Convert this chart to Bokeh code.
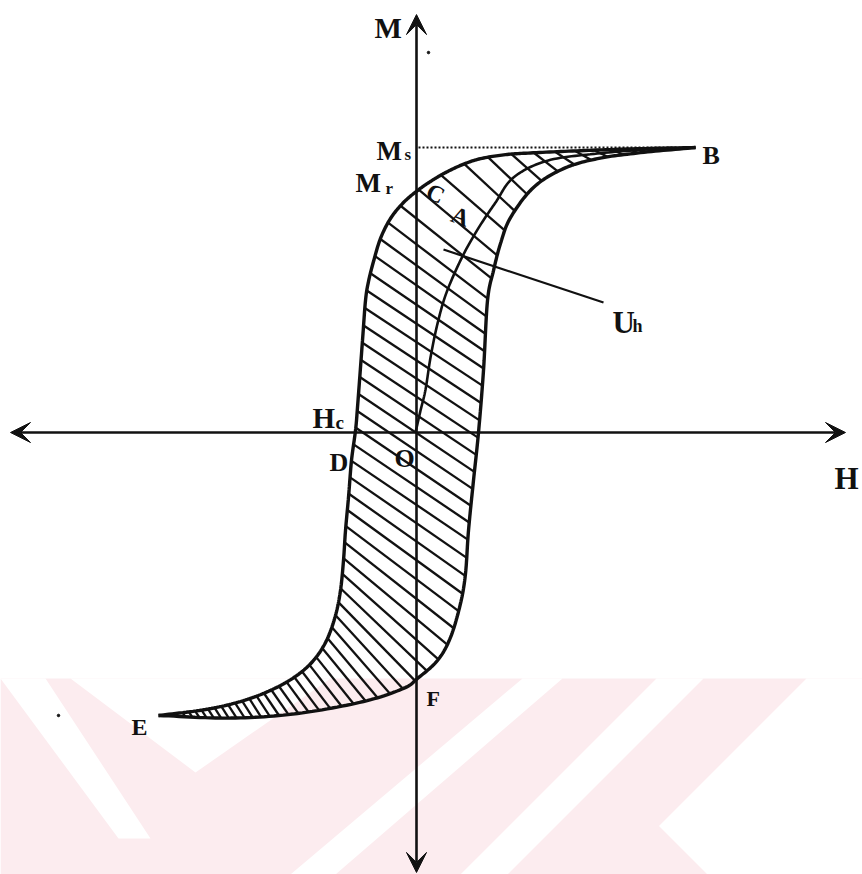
import numpy as np
from bokeh.plotting import figure
from bokeh.models import Range1d, Arrow, VeeHead
from bokeh.core.properties import value
from bokeh.embed import file_html
from bokeh.resources import INLINE

# ---- hysteresis loop (H in arbitrary field units, M in units of Ms) ----
# descending branch: from saturation B through Mr (C) and -Hc (D) to E
desc_H = [2.80, 2.25, 1.65, 1.15, 0.90, 0.65, 0.47, 0.30, 0.15, 0.02, -0.12,
          -0.25, -0.35, -0.42, -0.47, -0.50, -0.53, -0.58, -0.60, -0.64, -0.67,
          -0.70, -0.72, -0.75, -0.80, -0.89, -1.02, -1.20, -1.45, -1.75, -2.10,
          -2.57]
desc_M = [1.000, 0.996, 0.989, 0.981, 0.975, 0.961, 0.940, 0.912, 0.881, 0.849,
          0.807, 0.751, 0.681, 0.600, 0.530, 0.463, 0.323, 0.088, 0.007,
          -0.098, -0.228, -0.344, -0.449, -0.554, -0.642, -0.730, -0.800,
          -0.856, -0.905, -0.944, -0.972, -0.993]

# ascending branch: from E through F and +Hc back up to B
asc_H = [-2.57, -1.85, -1.18, -0.52, -0.12, 0.02, 0.22, 0.35, 0.45, 0.50, 0.53,
         0.58, 0.63, 0.68, 0.72, 0.78, 0.85, 0.95, 1.18, 1.48, 1.82, 2.25, 2.80]
asc_M = [-0.993, -1.002, -0.986, -0.944, -0.898, -0.863, -0.800, -0.719,
         -0.600, -0.495, -0.344, -0.168, 0.000, 0.218, 0.463, 0.568, 0.663,
         0.754, 0.860, 0.926, 0.961, 0.982, 1.000]

# initial magnetisation curve O -> A -> B
init_H = [0.00, 0.05, 0.10, 0.15, 0.22, 0.31, 0.46, 0.62, 0.80, 0.98, 1.32,
          1.82, 2.32, 2.80]
init_M = [0.000, 0.077, 0.150, 0.263, 0.382, 0.491, 0.611, 0.712, 0.807,
          0.895, 0.954, 0.979, 0.993, 1.000]

Ms_level = 1.0
H_sat = 2.80

# screen scale (pixels per unit) and the view window
PX_H, PX_M = 100.0, 285.0
X0, X1 = -4.15, 4.47
Y0, Y1 = -1.551, 1.516

INK = "#111111"
PINK = "#fcecef"
SERIF = value("Liberation Serif")


def smooth(x, y, n=14):
    """Uniform Catmull-Rom pass through the given points."""
    P = np.column_stack([x, y]).astype(float)
    P = np.vstack([2 * P[0] - P[1], P, 2 * P[-1] - P[-2]])
    out = []
    for i in range(1, len(P) - 2):
        p0, p1, p2, p3 = P[i - 1], P[i], P[i + 1], P[i + 2]
        for t in np.linspace(0, 1, n, endpoint=False):
            t2, t3 = t * t, t * t * t
            out.append(0.5 * (2 * p1 + (-p0 + p2) * t
                              + (2 * p0 - 5 * p1 + 4 * p2 - p3) * t2
                              + (-p0 + 3 * p1 - 3 * p2 + p3) * t3))
    out.append(P[-2])
    out = np.array(out)
    return out[:, 0], out[:, 1]


def arclen(x, y):
    seg = np.hypot(np.diff(x) * PX_H, np.diff(y) * PX_M)
    return np.concatenate([[0.0], np.cumsum(seg)])


def point_at(x, y, s, t):
    L = t * s[-1]
    return np.interp(L, s, x), np.interp(L, s, y)


def from_px(px, py):
    return (np.asarray(px, float) - 415.0) / PX_H, (432.0 - np.asarray(py, float)) / PX_M


p = figure(width=862, height=874, x_range=Range1d(X0, X1), y_range=Range1d(Y0, Y1),
           output_backend="svg", toolbar_location=None, min_border=0,
           x_axis_location=None, y_axis_location=None)
p.grid.visible = False
p.outline_line_color = None
p.background_fill_color = "white"
p.border_fill_color = "white"

# ---- pale background stamp along the bottom ----
band_top, band_bot = 678, 874
bx, by = from_px([0, 862, 862, 0], [band_top, band_top, band_bot, band_bot])
p.patch(bx, by, fill_color=PINK, line_color=None)
gaps_px = [
    ([0, 45, 150, 118], [678, 678, 838, 838]),
    ([70, 330, 195], [678, 678, 772]),
    ([522, 562, 335, 290], [678, 678, 874, 874]),
    ([656, 703, 507, 460], [678, 678, 874, 874]),
    ([806, 862, 862, 707, 658.5], [678, 678, 874, 874, 825.5]),
]
gx, gy = [], []
for xs, ys in gaps_px:
    a, b = from_px(xs, ys)
    gx.append(list(a))
    gy.append(list(b))
p.patches(gx, gy, fill_color="white", line_color=None)

# ---- branches ----
dx, dy = smooth(desc_H, desc_M)
ax_, ay_ = smooth(asc_H[::-1], asc_M[::-1])       # B -> E as well
ix, iy = smooth(init_H, init_M)
sd, sa = arclen(dx, dy), arclen(ax_, ay_)

# hatching across the loop: each stroke joins the two branches
gap_t = [0, 0.05, 0.20, 0.28, 0.35, 0.70, 0.80, 0.88, 0.95, 1.0]
gap_px = [11, 16, 24, 27, 18, 16, 11, 8, 6.5, 6]
lag_t = [0, 0.15, 0.27, 0.45, 0.60, 0.81, 0.90, 1.0]
lag = [0, 0.02, 0.04, 0.045, 0.045, 0.025, 0.01, 0]
hx, hy = [], []
L = 10.0
while L < sd[-1] - 6:
    t = L / sd[-1]
    ta = max(0.0, t - np.interp(t, lag_t, lag))
    x1, y1 = point_at(dx, dy, sd, t)
    x2, y2 = point_at(ax_, ay_, sa, ta)
    hx.append([x1, x2])
    hy.append([y1, y2])
    L += np.interp(t, gap_t, gap_px)
p.multi_line(hx, hy, line_color=INK, line_width=2.3)

p.line(dx, dy, line_color=INK, line_width=3.4)
p.line(ax_, ay_, line_color=INK, line_width=3.4)
p.line(ix, iy, line_color=INK, line_width=2.6)

# saturation level
p.line([0.03, H_sat], [Ms_level, Ms_level], line_color=INK, line_width=2,
       line_dash="2 2")

# leader to the loop area
lx, ly = from_px([443, 603], [249, 302])
p.line(lx, ly, line_color=INK, line_width=2.2)

# ---- axes with arrow heads ----
for xs, ys, xe, ye in [(0.0, 0.0, from_px(845, 0)[0], 0.0),
                       (0.0, 0.0, from_px(10, 0)[0], 0.0),
                       (0.01, 0.0, 0.01, from_px(0, 14)[1]),
                       (0.01, 0.0, 0.01, from_px(0, 872)[1])]:
    p.add_layout(Arrow(x_start=xs, y_start=ys, x_end=xe, y_end=ye,
                       line_color=INK, line_width=2.6,
                       end=VeeHead(size=20, fill_color=INK, line_color=INK,
                                   line_width=1)))

# scan specks
sx, sy = from_px([428, 58], [52, 715])
p.scatter(sx, sy, size=2.5, color=INK)

# ---- labels ----
labels = [
    # text, left px, baseline px, size
    ("M", 374, 27, 29),
    ("M", 376, 150, 27), ("s", 404, 154, 17),
    ("M", 355, 182, 27), ("r", 385, 188, 17),
    ("B", 702, 155, 26),
    ("U", 612, 322, 31), ("h", 632, 325, 18),
    ("H", 312, 417, 29), ("c", 335, 422, 19),
    ("D", 329, 462, 26),
    ("O", 394, 458, 26),
    ("H", 834, 478, 31),
    ("E", 131, 727, 24),
    ("F", 426, 698, 22),
]
for txt, lxp, lyp, fs in labels:
    x, y = from_px(lxp, lyp)
    p.text(x=[x], y=[y], text=[txt], text_font=SERIF, text_font_style="bold",
           text_font_size=f"{fs}px", text_align="left",
           text_baseline="alphabetic", text_color=INK)

for txt, cx, cy, fs, ang in [("C", 435, 193, 24, -0.45), ("A", 460, 216, 24, -0.35)]:
    x, y = from_px(cx, cy)
    p.text(x=[x], y=[y], text=[txt], text_font=SERIF, text_font_style="bold",
           text_font_size=f"{fs}px", text_align="center", text_baseline="middle",
           angle=ang, text_color=INK)

open("out.html", "w").write(file_html(p, INLINE))
